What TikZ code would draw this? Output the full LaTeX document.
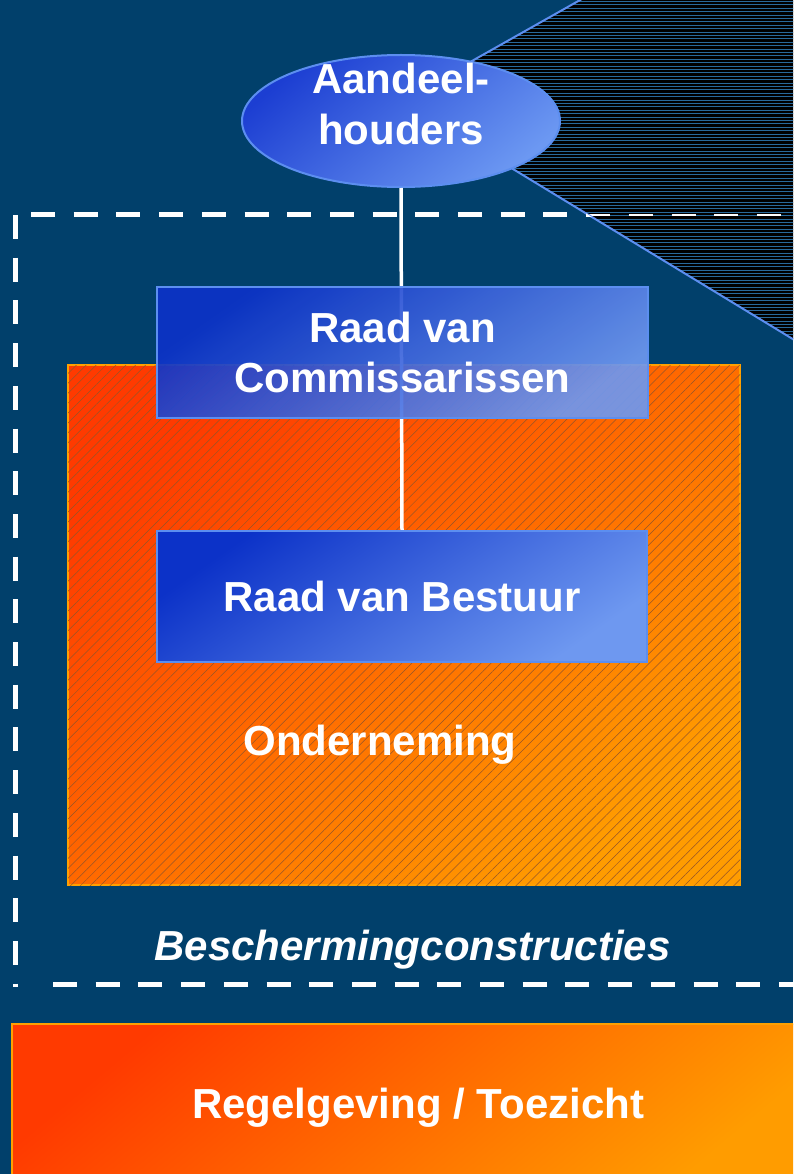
\documentclass[tikz,border=0pt]{standalone}
\usepackage{fontspec}
\setmainfont{Liberation Sans}
\usetikzlibrary{shapes.geometric,patterns.meta}
\definecolor{bg}{RGB}{1,64,107}
\definecolor{hatchblue}{RGB}{40,105,155}
\definecolor{edgeblue}{RGB}{92,142,240}
\definecolor{blueA}{RGB}{12,50,200}
\definecolor{blueB}{RGB}{110,152,240}
\definecolor{ellA}{RGB}{28,62,210}
\definecolor{ellB}{RGB}{108,152,242}
\definecolor{orA}{RGB}{255,58,0}
\definecolor{orB}{RGB}{255,156,0}
\definecolor{orEdge}{RGB}{255,160,0}
\definecolor{orLine}{RGB}{150,85,40}
\tikzset{
  txt/.style={text=white, font=\fontsize{42}{51}\selectfont\bfseries, inner sep=0pt},
  bluebox/.style={rectangle, draw=edgeblue, line width=2.5pt, top color=blueA, bottom color=blueB,
    shading angle=35, text=white, font=\fontsize{42}{50}\selectfont\bfseries, align=center, inner sep=0pt},
  orangebox/.style={rectangle, draw=orEdge, line width=2pt, top color=orA, bottom color=orB, shading angle=40},
  dashw/.style={white, line width=5pt, dash pattern=on 24pt off 18.7pt},
  dashthin/.style={white, line width=1.3pt, dash pattern=on 24pt off 18.7pt},
  hatchline/.style={hatchblue, line width=1.1pt},
  edgeline/.style={edgeblue, line width=2pt},
  link/.style={white, line width=3.5pt}
}
\begin{document}
\begin{tikzpicture}[x=1pt,y=-1pt]
\useasboundingbox (0,0) rectangle (793,1174);
\clip (0,0) rectangle (793,1174);
\fill[bg] (0,0) rectangle (793,1174);

% hatched cone to the right of the shareholders
\coordinate (apex) at (401,101);
\begin{scope}
  \clip (apex) -- (589,-5) -- (810,-5) -- (810,349.5) -- cycle;
  \fill[black] (380,-5) rectangle (810,360);
  \foreach \yy in {1.5,4.9,...,352} \draw[hatchline] (380,\yy) -- (810,\yy);
  \draw[dashthin] (31,215) -- (810,215);
\end{scope}
\draw[edgeline] (apex) -- (589,-5);
\draw[edgeline] (apex) -- (810,349.5);

% protective constructions (dashed frame)
\begin{scope}
  \clip (0,0) -- (589,-5) -- (apex) -- (810,349.5) -- (810,1174) -- (0,1174) -- cycle;
  \draw[dashw] (31,215) -- (810,215);
\end{scope}
\draw[dashw] (15.5,215) -- (15.5,987);
\draw[dashw] (53,984) -- (810,984);

% company
\node[orangebox, minimum width=672pt, minimum height=520pt,
  postaction={pattern={Lines[angle=45,distance=7pt,line width=0.5pt]}, pattern color=orLine, fill opacity=0.25}]
  (ond) at (404,625) {};
\node[txt, anchor=base] (ondt) at (380,755) {Onderneming};

% shareholders ellipse
\node[ellipse, draw=edgeblue, line width=2pt, top color=ellA, bottom color=ellB, shading angle=40,
  minimum width=318pt, minimum height=132pt, inner sep=0pt] (ah) at (401,121) {};

% boards
\node[rectangle, minimum width=490pt, minimum height=131pt] (rvbpos) at (402,596.5) {};
\draw[link] (ah.south) -- (rvbpos.north);
\node[bluebox, minimum width=491pt, minimum height=131pt, fill opacity=0.92, text opacity=1]
  (rvc) at (402.5,352.5) {Raad van\\Commissarissen};
\node[bluebox, minimum width=490pt, minimum height=131pt] (rvb) at (402,596.5) {Raad van Bestuur};

\node[txt, align=center] (aht) at (401,103.5) {Aandeel-\\houders};

\node[txt, anchor=base, font=\fontsize{42}{51}\selectfont\bfseries\itshape] (besch) at (412.5,960) {Beschermingconstructies};

% regulation / supervision
\node[orangebox, minimum width=798pt, minimum height=170pt] (reg) at (411,1109) {};
\node[txt, anchor=base] (regt) at (418,1118) {Regelgeving / Toezicht};
\end{tikzpicture}
\end{document}
